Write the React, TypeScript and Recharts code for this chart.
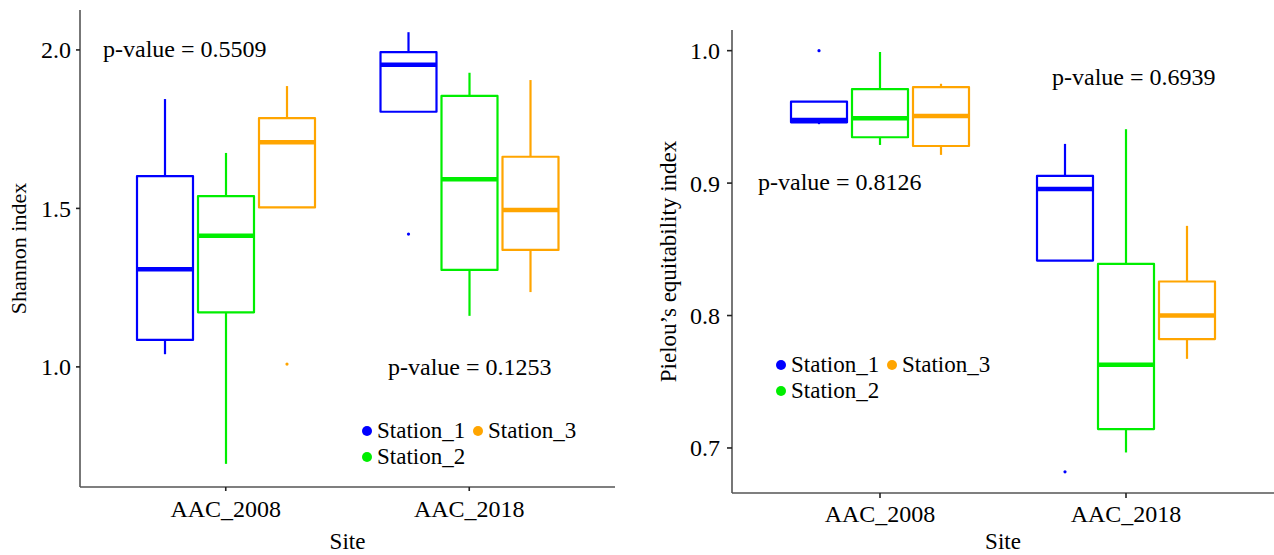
import React from "react"
import { ComposedChart, Bar, XAxis, YAxis, Legend } from "recharts"

const sites = ["AAC_2008", "AAC_2018"]
const stations = ["Station_1", "Station_2", "Station_3"]
const stationColors = ["#0000FF", "#00EE00", "#FFA500"]

// each entry: [lower whisker, q1, median, q3, upper whisker], one per site
const shannonStation1 = [[1.04, 1.085, 1.308, 1.602, 1.845], [1.805, 1.805, 1.953, 1.993, 2.056]]
const shannonStation2 = [[0.694, 1.172, 1.414, 1.539, 1.675], [1.161, 1.306, 1.592, 1.855, 1.928]]
const shannonStation3 = [[1.503, 1.503, 1.709, 1.785, 1.886], [1.236, 1.369, 1.495, 1.663, 1.905]]
const shannonOutliers1 = [[], [1.419]]
const shannonOutliers2 = [[], []]
const shannonOutliers3 = [[1.009], []]
const shannonTicks = [1.0, 1.5, 2.0]
const shannonPValues = ["p-value = 0.5509", "p-value = 0.1253"]

const pielouStation1 = [[0.9445, 0.9459, 0.9477, 0.9615, 0.9615], [0.8415, 0.8415, 0.8956, 0.9054, 0.9296]]
const pielouStation2 = [[0.9288, 0.9346, 0.949, 0.971, 0.999], [0.6966, 0.7143, 0.7628, 0.839, 0.9407]]
const pielouStation3 = [[0.9213, 0.928, 0.9507, 0.9724, 0.975], [0.7673, 0.7822, 0.8, 0.8257, 0.8677]]
const pielouOutliers1 = [[1.0], [0.682]]
const pielouOutliers2 = [[], []]
const pielouOutliers3 = [[], []]
const pielouTicks = [0.7, 0.8, 0.9, 1.0]
const pielouPValues = ["p-value = 0.8126", "p-value = 0.6939"]

const FONT = "Liberation Serif"
const H = 555

function buildRows(stats, outliers) {
  return sites.map((site, i) => {
    const row = { site }
    stats.forEach((s, k) => {
      const b = s[i]
      const o = outliers[k][i]
      row[`r${k}`] = [Math.min(b[0], ...o), Math.max(b[4], ...o)]
      row[`b${k}`] = b
      row[`o${k}`] = o
    })
    return row
  })
}

const shannonRows = buildRows(
  [shannonStation1, shannonStation2, shannonStation3],
  [shannonOutliers1, shannonOutliers2, shannonOutliers3]
)
const pielouRows = buildRows(
  [pielouStation1, pielouStation2, pielouStation3],
  [pielouOutliers1, pielouOutliers2, pielouOutliers3]
)

// bar covers the full range of the box, the shape maps stats onto it
const makeBoxShape = (k, color) => (props) => {
  const { x, y, width, height, payload } = props
  const [lo, hi] = payload[`r${k}`]
  const top = Math.min(y, y + height)
  const h = Math.abs(height)
  const py = (v) => top + ((hi - v) / (hi - lo)) * h
  const [wl, q1, med, q3, wh] = payload[`b${k}`]
  const cx = x + width / 2
  return (
    <g>
      <line x1={cx} x2={cx} y1={py(wh)} y2={py(q3)} stroke={color} strokeWidth={2.2} />
      <line x1={cx} x2={cx} y1={py(q1)} y2={py(wl)} stroke={color} strokeWidth={2.2} />
      <rect
        x={x}
        y={py(q3)}
        width={width}
        height={py(q1) - py(q3)}
        fill="none"
        stroke={color}
        strokeWidth={2.2}
        strokeLinejoin="round"
      />
      <line x1={x} x2={x + width} y1={py(med)} y2={py(med)} stroke={color} strokeWidth={4.5} />
      {payload[`o${k}`].map((v, j) => (
        <circle key={j} cx={cx} cy={py(v)} r={1.6} fill={color} />
      ))}
    </g>
  )
}

const StationLegend = () => (
  <div
    style={{
      display: "grid",
      gridTemplateColumns: "111px auto",
      gridTemplateRows: "26px 26px",
      gridAutoFlow: "column",
      fontFamily: FONT,
      fontSize: 23,
      color: "#000",
      whiteSpace: "nowrap",
    }}
  >
    {stations.map((s, i) => (
      <div key={s} style={{ display: "flex", alignItems: "center" }}>
        <span
          style={{
            display: "inline-block",
            width: 10,
            height: 10,
            borderRadius: "50%",
            background: stationColors[i],
            marginRight: 5,
          }}
        />
        {s}
      </div>
    ))}
  </div>
)

const BoxPanel = ({
  width,
  rows,
  domain,
  ticks,
  yLabel,
  yLabelSize,
  yLabelOffset,
  yAxisWidth,
  top,
  right,
  xAxisHeight,
  tickSize,
  yTickMargin,
  xTickMargin,
  xPad,
  legendPos,
  pValues,
  pValuePos,
}) => (
  <div style={{ position: "relative", width, height: H }}>
    <ComposedChart
      width={width}
      height={H}
      data={rows}
      margin={{ top, right, left: 0, bottom: 0 }}
      barSize={56}
      barGap={5}
    >
      <XAxis
        dataKey="site"
        height={xAxisHeight}
        padding={{ left: xPad, right: xPad }}
        axisLine={{ stroke: "#555", strokeWidth: 1.6 }}
        tickLine={{ stroke: "#222", strokeWidth: 1.6 }}
        tickSize={tickSize}
        tickMargin={xTickMargin}
        tick={{ fill: "#000", fontSize: 24, fontFamily: FONT }}
        label={{
          value: "Site",
          position: "insideBottom",
          offset: 6,
          fill: "#000",
          fontSize: 23,
          fontFamily: FONT,
        }}
      />
      <YAxis
        type="number"
        domain={domain}
        ticks={ticks}
        allowDataOverflow
        width={yAxisWidth}
        axisLine={{ stroke: "#555", strokeWidth: 1.6 }}
        tickLine={{ stroke: "#222", strokeWidth: 1.6 }}
        tickSize={tickSize}
        tickMargin={yTickMargin}
        tickFormatter={(v) => v.toFixed(1)}
        tick={{ fill: "#000", fontSize: 24, fontFamily: FONT }}
        label={{
          value: yLabel,
          angle: -90,
          position: "insideLeft",
          offset: yLabelOffset,
          fill: "#000",
          fontSize: yLabelSize,
          fontFamily: FONT,
          style: { textAnchor: "middle" },
        }}
      />
      <Legend
        layout="horizontal"
        verticalAlign="middle"
        align="center"
        content={() => <StationLegend />}
        wrapperStyle={{ left: legendPos[0], top: legendPos[1], width: "auto", height: "auto" }}
      />
      {stations.map((s, k) => (
        <Bar
          key={s}
          dataKey={`r${k}`}
          name={s}
          fill={stationColors[k]}
          isAnimationActive={false}
          shape={makeBoxShape(k, stationColors[k])}
        />
      ))}
    </ComposedChart>
    <svg
      width={width}
      height={H}
      style={{ position: "absolute", left: 0, top: 0, pointerEvents: "none" }}
    >
      {pValues.map((t, i) => (
        <text
          key={t}
          x={pValuePos[i][0]}
          y={pValuePos[i][1]}
          fontFamily={FONT}
          fontSize={24}
          fill="#000"
        >
          {t}
        </text>
      ))}
    </svg>
  </div>
)

export default function App() {
  return (
    <div
      style={{
        position: "absolute",
        left: 0,
        top: 0,
        width: 1274,
        height: H,
        background: "#fff",
        display: "flex",
      }}
    >
      <BoxPanel
        width={640}
        rows={shannonRows}
        domain={[0.621, 2.126]}
        ticks={shannonTicks}
        yLabel="Shannon index"
        yLabelSize={22}
        yLabelOffset={18}
        yAxisWidth={80}
        top={10}
        right={25}
        xAxisHeight={68}
        tickSize={4}
        yTickMargin={5}
        xTickMargin={9}
        xPad={24}
        legendPos={[362, 418]}
        pValues={shannonPValues}
        pValuePos={[[103, 57], [388, 375]]}
      />
      <BoxPanel
        width={634}
        rows={pielouRows}
        domain={[0.666, 1.0156]}
        ticks={pielouTicks}
        yLabel="Pielou’s equitability index"
        yLabelSize={23}
        yLabelOffset={28}
        yAxisWidth={92}
        top={30}
        right={0}
        xAxisHeight={62}
        tickSize={5}
        yTickMargin={7}
        xTickMargin={7}
        xPad={25}
        legendPos={[136, 352]}
        pValues={pielouPValues}
        pValuePos={[[118, 190], [412, 85]]}
      />
    </div>
  )
}
